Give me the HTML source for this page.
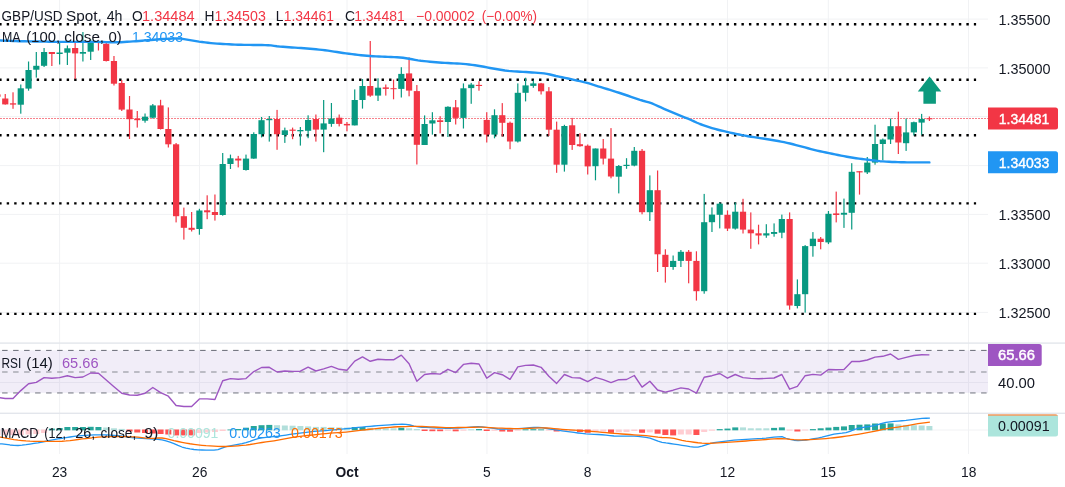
<!DOCTYPE html>
<html><head><meta charset="utf-8"><title>GBP/USD Spot 4h</title>
<style>html,body{margin:0;padding:0;background:#fff;overflow:hidden}body{width:1065px;height:487px}svg{display:block}text{font-family:"Liberation Sans",sans-serif;font-size:13.8px}</style></head><body>
<svg width="1065" height="487" viewBox="0 0 1065 487">
<rect x="0" y="0" width="1065" height="487" fill="#ffffff"/>
<defs><filter id="tb" x="-5%" y="-20%" width="110%" height="140%"><feGaussianBlur stdDeviation="0.22"/></filter></defs>
<g fill="#131722">
<g stroke="#F1F2F4" stroke-width="1" fill="none">
<line x1="59.6" y1="0" x2="59.6" y2="454"/>
<line x1="199.5" y1="0" x2="199.5" y2="454"/>
<line x1="347" y1="0" x2="347" y2="454"/>
<line x1="486.95" y1="0" x2="486.95" y2="454"/>
<line x1="587.9" y1="0" x2="587.9" y2="454"/>
<line x1="727.45" y1="0" x2="727.45" y2="454"/>
<line x1="828.3" y1="0" x2="828.3" y2="454"/>
<line x1="968.5" y1="0" x2="968.5" y2="454"/>
<line x1="0" y1="19.1" x2="988" y2="19.1"/>
<line x1="0" y1="67.9" x2="988" y2="67.9"/>
<line x1="0" y1="116.6" x2="988" y2="116.6"/>
<line x1="0" y1="165.6" x2="988" y2="165.6"/>
<line x1="0" y1="214.4" x2="988" y2="214.4"/>
<line x1="0" y1="263.2" x2="988" y2="263.2"/>
<line x1="0" y1="312.4" x2="988" y2="312.4"/>
</g>
<rect x="0" y="350.3" width="988" height="42.6" fill="#7E57C2" fill-opacity="0.11"/>
<line x1="0" y1="382.5" x2="988" y2="382.5" stroke="#E4E1EE" stroke-width="1"/>
<line x1="0" y1="430" x2="988" y2="430" stroke="#F1F2F4" stroke-width="1"/>
<g fill="none">
<line x1="2.1" y1="350.4" x2="988" y2="350.4" stroke="#676a75" stroke-width="1.0" stroke-dasharray="5.5 5.5"/>
<line x1="2.1" y1="372" x2="988" y2="372" stroke="#a9aab3" stroke-width="1.6" stroke-dasharray="5.5 5.5"/>
<line x1="2.1" y1="392.9" x2="988" y2="392.9" stroke="#a9aab3" stroke-width="1.6" stroke-dasharray="5.5 5.5"/>
</g>
<rect x="0" y="342.4" width="1065" height="1.4" fill="#E3E6EC"/>
<rect x="0" y="412.6" width="1065" height="1.4" fill="#E3E6EC"/>
<g stroke="#000" stroke-width="2.4" stroke-dasharray="2.4 5.0975" fill="none">
<line x1="-0.8" y1="24.3" x2="976.1" y2="24.3"/>
<line x1="-0.8" y1="79.7" x2="976.1" y2="79.7"/>
<line x1="-0.8" y1="135.25" x2="976.1" y2="135.25"/>
<line x1="-0.8" y1="203.4" x2="976.1" y2="203.4"/>
<line x1="-0.8" y1="313.9" x2="976.1" y2="313.9"/>
</g>
<line x1="0" y1="118.5" x2="988" y2="118.5" stroke="#F23645" stroke-width="1" stroke-opacity="0.62" stroke-dasharray="2 1"/>
<rect x="-3.12" y="94.4" width="1.2" height="2.4" fill="#F23645"/>
<rect x="-5.62" y="94.4" width="6.2" height="2.4" fill="#F23645"/>
<rect x="4.65" y="94" width="1.2" height="10.6" fill="#F23645"/>
<rect x="2.15" y="98.5" width="6.2" height="5.9" fill="#F23645"/>
<rect x="12.42" y="92.3" width="1.2" height="16.5" fill="#F23645"/>
<rect x="9.92" y="103.3" width="6.2" height="1.3" fill="#F23645"/>
<rect x="20.18" y="84.5" width="1.2" height="29.2" fill="#089981"/>
<rect x="17.68" y="88.3" width="6.2" height="16.4" fill="#089981"/>
<rect x="27.95" y="61.5" width="1.2" height="29.2" fill="#089981"/>
<rect x="25.45" y="70" width="6.2" height="18.6" fill="#089981"/>
<rect x="35.71" y="52" width="1.2" height="25.6" fill="#089981"/>
<rect x="33.21" y="65.8" width="6.2" height="3.9" fill="#089981"/>
<rect x="43.48" y="48" width="1.2" height="19" fill="#089981"/>
<rect x="40.98" y="52" width="6.2" height="13.8" fill="#089981"/>
<rect x="51.25" y="52" width="1.2" height="14" fill="#F23645"/>
<rect x="48.75" y="52" width="6.2" height="2" fill="#F23645"/>
<rect x="59.01" y="42" width="1.2" height="22.5" fill="#089981"/>
<rect x="56.51" y="52.5" width="6.2" height="1.5" fill="#089981"/>
<rect x="66.78" y="45.5" width="1.2" height="19.5" fill="#089981"/>
<rect x="64.28" y="48.3" width="6.2" height="4.4" fill="#089981"/>
<rect x="74.54" y="43" width="1.2" height="36" fill="#F23645"/>
<rect x="72.04" y="48" width="6.2" height="5.4" fill="#F23645"/>
<rect x="82.31" y="32" width="1.2" height="29.5" fill="#089981"/>
<rect x="79.81" y="52" width="6.2" height="1.7" fill="#089981"/>
<rect x="90.08" y="39.4" width="1.2" height="20.6" fill="#089981"/>
<rect x="87.58" y="42.4" width="6.2" height="9.3" fill="#089981"/>
<rect x="97.84" y="40.6" width="1.2" height="9.9" fill="#F23645"/>
<rect x="95.34" y="42" width="6.2" height="1" fill="#F23645"/>
<rect x="105.61" y="42" width="1.2" height="19.5" fill="#F23645"/>
<rect x="103.11" y="43.8" width="6.2" height="17.2" fill="#F23645"/>
<rect x="113.37" y="56" width="1.2" height="29.5" fill="#F23645"/>
<rect x="110.87" y="61" width="6.2" height="22.7" fill="#F23645"/>
<rect x="121.14" y="80" width="1.2" height="31" fill="#F23645"/>
<rect x="118.64" y="83" width="6.2" height="26.6" fill="#F23645"/>
<rect x="128.91" y="96" width="1.2" height="43" fill="#F23645"/>
<rect x="126.41" y="109.5" width="6.2" height="9.7" fill="#F23645"/>
<rect x="136.67" y="111" width="1.2" height="16.6" fill="#F23645"/>
<rect x="134.17" y="118.7" width="6.2" height="1.5" fill="#F23645"/>
<rect x="144.44" y="113.5" width="1.2" height="9.2" fill="#089981"/>
<rect x="141.94" y="116.7" width="6.2" height="4" fill="#089981"/>
<rect x="152.2" y="104" width="1.2" height="14.5" fill="#089981"/>
<rect x="149.7" y="105.4" width="6.2" height="12.3" fill="#089981"/>
<rect x="159.97" y="99.8" width="1.2" height="29.7" fill="#F23645"/>
<rect x="157.47" y="105.4" width="6.2" height="23.6" fill="#F23645"/>
<rect x="167.74" y="107.4" width="1.2" height="40.1" fill="#F23645"/>
<rect x="165.24" y="129" width="6.2" height="15.3" fill="#F23645"/>
<rect x="175.5" y="143" width="1.2" height="79.4" fill="#F23645"/>
<rect x="173" y="144.3" width="6.2" height="71.9" fill="#F23645"/>
<rect x="183.27" y="207.6" width="1.2" height="32" fill="#F23645"/>
<rect x="180.77" y="216.2" width="6.2" height="11.6" fill="#F23645"/>
<rect x="191.03" y="212" width="1.2" height="19.5" fill="#F23645"/>
<rect x="188.53" y="227.8" width="6.2" height="2" fill="#F23645"/>
<rect x="198.8" y="208.8" width="1.2" height="25.9" fill="#089981"/>
<rect x="196.3" y="210.5" width="6.2" height="18.5" fill="#089981"/>
<rect x="206.57" y="195.3" width="1.2" height="23.9" fill="#F23645"/>
<rect x="204.07" y="210.3" width="6.2" height="2" fill="#F23645"/>
<rect x="214.33" y="194.5" width="1.2" height="26.1" fill="#F23645"/>
<rect x="211.83" y="212" width="6.2" height="3" fill="#F23645"/>
<rect x="222.1" y="153" width="1.2" height="62.7" fill="#089981"/>
<rect x="219.6" y="164" width="6.2" height="51" fill="#089981"/>
<rect x="229.86" y="154.6" width="1.2" height="14.4" fill="#089981"/>
<rect x="227.36" y="158.3" width="6.2" height="5.7" fill="#089981"/>
<rect x="237.63" y="155.9" width="1.2" height="11.5" fill="#F23645"/>
<rect x="235.13" y="158.6" width="6.2" height="1.9" fill="#F23645"/>
<rect x="245.4" y="154.6" width="1.2" height="16" fill="#089981"/>
<rect x="242.9" y="158.6" width="6.2" height="11.4" fill="#089981"/>
<rect x="253.16" y="132.3" width="1.2" height="26.5" fill="#089981"/>
<rect x="250.66" y="134" width="6.2" height="24.6" fill="#089981"/>
<rect x="260.93" y="117" width="1.2" height="20.4" fill="#089981"/>
<rect x="258.43" y="120.2" width="6.2" height="14" fill="#089981"/>
<rect x="268.69" y="116" width="1.2" height="25.6" fill="#089981"/>
<rect x="266.19" y="119" width="6.2" height="1.2" fill="#089981"/>
<rect x="276.46" y="109.9" width="1.2" height="39.9" fill="#F23645"/>
<rect x="273.96" y="119" width="6.2" height="15.2" fill="#F23645"/>
<rect x="284.23" y="127.6" width="1.2" height="15.3" fill="#089981"/>
<rect x="281.73" y="130.3" width="6.2" height="4.7" fill="#089981"/>
<rect x="291.99" y="127.6" width="1.2" height="11.6" fill="#F23645"/>
<rect x="289.49" y="129.6" width="6.2" height="1.2" fill="#F23645"/>
<rect x="299.76" y="127" width="1.2" height="18.6" fill="#089981"/>
<rect x="297.26" y="130" width="6.2" height="1.3" fill="#089981"/>
<rect x="307.52" y="115.3" width="1.2" height="22.9" fill="#089981"/>
<rect x="305.02" y="120" width="6.2" height="10.8" fill="#089981"/>
<rect x="315.29" y="114.5" width="1.2" height="27.1" fill="#F23645"/>
<rect x="312.79" y="119" width="6.2" height="10.6" fill="#F23645"/>
<rect x="323.06" y="100" width="1.2" height="52.2" fill="#089981"/>
<rect x="320.56" y="123.4" width="6.2" height="6.2" fill="#089981"/>
<rect x="330.82" y="103" width="1.2" height="23.8" fill="#089981"/>
<rect x="328.32" y="118.5" width="6.2" height="5.4" fill="#089981"/>
<rect x="338.59" y="114.5" width="1.2" height="11.9" fill="#F23645"/>
<rect x="336.09" y="117.7" width="6.2" height="6.2" fill="#F23645"/>
<rect x="346.35" y="122" width="1.2" height="9.3" fill="#F23645"/>
<rect x="343.85" y="123.9" width="6.2" height="1.5" fill="#F23645"/>
<rect x="354.12" y="89.4" width="1.2" height="36" fill="#089981"/>
<rect x="351.62" y="100" width="6.2" height="25.4" fill="#089981"/>
<rect x="361.89" y="79" width="1.2" height="29.6" fill="#089981"/>
<rect x="359.39" y="86" width="6.2" height="14" fill="#089981"/>
<rect x="369.65" y="41" width="1.2" height="55.8" fill="#F23645"/>
<rect x="367.15" y="86" width="6.2" height="9.6" fill="#F23645"/>
<rect x="377.42" y="78.3" width="1.2" height="22.7" fill="#089981"/>
<rect x="374.92" y="87.7" width="6.2" height="7.9" fill="#089981"/>
<rect x="385.18" y="84.5" width="1.2" height="11.1" fill="#F23645"/>
<rect x="382.68" y="87.4" width="6.2" height="1.5" fill="#F23645"/>
<rect x="392.95" y="79.6" width="1.2" height="19.7" fill="#F23645"/>
<rect x="390.45" y="88.2" width="6.2" height="1" fill="#F23645"/>
<rect x="400.72" y="67.2" width="1.2" height="30.3" fill="#089981"/>
<rect x="398.22" y="73.9" width="6.2" height="15" fill="#089981"/>
<rect x="408.48" y="57.4" width="1.2" height="38.9" fill="#F23645"/>
<rect x="405.98" y="73.4" width="6.2" height="17.2" fill="#F23645"/>
<rect x="416.25" y="85" width="1.2" height="79.5" fill="#F23645"/>
<rect x="413.75" y="91.1" width="6.2" height="53.7" fill="#F23645"/>
<rect x="424.01" y="115.4" width="1.2" height="29.6" fill="#089981"/>
<rect x="421.51" y="124" width="6.2" height="21" fill="#089981"/>
<rect x="431.78" y="112.2" width="1.2" height="22.4" fill="#089981"/>
<rect x="429.28" y="120.3" width="6.2" height="3.2" fill="#089981"/>
<rect x="439.55" y="116.2" width="1.2" height="17.2" fill="#F23645"/>
<rect x="437.05" y="120.3" width="6.2" height="1.7" fill="#F23645"/>
<rect x="447.31" y="106.3" width="1.2" height="30.7" fill="#089981"/>
<rect x="444.81" y="106.8" width="6.2" height="15.2" fill="#089981"/>
<rect x="455.08" y="100" width="1.2" height="24.5" fill="#F23645"/>
<rect x="452.58" y="107.3" width="6.2" height="10.6" fill="#F23645"/>
<rect x="462.84" y="83.4" width="1.2" height="45.1" fill="#089981"/>
<rect x="460.34" y="88.3" width="6.2" height="29.6" fill="#089981"/>
<rect x="470.61" y="82.9" width="1.2" height="20.9" fill="#089981"/>
<rect x="468.11" y="84.6" width="6.2" height="3.5" fill="#089981"/>
<rect x="478.38" y="81.2" width="1.2" height="9.5" fill="#F23645"/>
<rect x="475.88" y="84.9" width="6.2" height="1.1" fill="#F23645"/>
<rect x="486.14" y="112.2" width="1.2" height="30.3" fill="#F23645"/>
<rect x="483.64" y="119.9" width="6.2" height="14.7" fill="#F23645"/>
<rect x="493.91" y="109.3" width="1.2" height="29" fill="#089981"/>
<rect x="491.41" y="115.2" width="6.2" height="19.4" fill="#089981"/>
<rect x="501.67" y="103.1" width="1.2" height="33.3" fill="#F23645"/>
<rect x="499.17" y="115.2" width="6.2" height="7.6" fill="#F23645"/>
<rect x="509.44" y="121.6" width="1.2" height="27.6" fill="#F23645"/>
<rect x="506.94" y="122.8" width="6.2" height="18.7" fill="#F23645"/>
<rect x="517.21" y="83.4" width="1.2" height="59.1" fill="#089981"/>
<rect x="514.71" y="92.8" width="6.2" height="48.7" fill="#089981"/>
<rect x="524.97" y="77.7" width="1.2" height="23.7" fill="#089981"/>
<rect x="522.47" y="85.4" width="6.2" height="7.4" fill="#089981"/>
<rect x="532.74" y="80.4" width="1.2" height="7.4" fill="#089981"/>
<rect x="530.24" y="83.4" width="6.2" height="2.5" fill="#089981"/>
<rect x="540.5" y="82.9" width="1.2" height="11.6" fill="#F23645"/>
<rect x="538" y="83.4" width="6.2" height="7.9" fill="#F23645"/>
<rect x="548.27" y="87.1" width="1.2" height="48.8" fill="#F23645"/>
<rect x="545.77" y="91.3" width="6.2" height="38.4" fill="#F23645"/>
<rect x="556.04" y="121.6" width="1.2" height="51.2" fill="#F23645"/>
<rect x="553.54" y="129.7" width="6.2" height="35" fill="#F23645"/>
<rect x="563.8" y="124.8" width="1.2" height="46.8" fill="#089981"/>
<rect x="561.3" y="126" width="6.2" height="38.7" fill="#089981"/>
<rect x="571.57" y="117.9" width="1.2" height="32" fill="#F23645"/>
<rect x="569.07" y="125.3" width="6.2" height="19.7" fill="#F23645"/>
<rect x="579.33" y="133.2" width="1.2" height="13.5" fill="#F23645"/>
<rect x="576.83" y="144.2" width="6.2" height="2" fill="#F23645"/>
<rect x="587.1" y="144.5" width="1.2" height="30" fill="#F23645"/>
<rect x="584.6" y="145.7" width="6.2" height="20.7" fill="#F23645"/>
<rect x="594.87" y="148.5" width="1.2" height="31.8" fill="#089981"/>
<rect x="592.37" y="148.5" width="6.2" height="17.7" fill="#089981"/>
<rect x="602.63" y="139" width="1.2" height="25.5" fill="#F23645"/>
<rect x="600.13" y="148.5" width="6.2" height="10.1" fill="#F23645"/>
<rect x="610.4" y="128.1" width="1.2" height="50.2" fill="#F23645"/>
<rect x="607.9" y="158.6" width="6.2" height="17.9" fill="#F23645"/>
<rect x="618.16" y="165" width="1.2" height="28.4" fill="#089981"/>
<rect x="615.66" y="166" width="6.2" height="10.7" fill="#089981"/>
<rect x="625.93" y="158.2" width="1.2" height="10.6" fill="#089981"/>
<rect x="623.43" y="164.8" width="6.2" height="1.2" fill="#089981"/>
<rect x="633.7" y="147" width="1.2" height="19.3" fill="#089981"/>
<rect x="631.2" y="150.8" width="6.2" height="14.8" fill="#089981"/>
<rect x="641.46" y="149" width="1.2" height="65.3" fill="#F23645"/>
<rect x="638.96" y="150.8" width="6.2" height="61.4" fill="#F23645"/>
<rect x="649.23" y="175.4" width="1.2" height="45.6" fill="#089981"/>
<rect x="646.73" y="190.2" width="6.2" height="22" fill="#089981"/>
<rect x="656.99" y="170.5" width="1.2" height="101.5" fill="#F23645"/>
<rect x="654.49" y="190.2" width="6.2" height="64.1" fill="#F23645"/>
<rect x="664.76" y="249.3" width="1.2" height="33.3" fill="#F23645"/>
<rect x="662.26" y="254.8" width="6.2" height="12.2" fill="#F23645"/>
<rect x="672.53" y="255.5" width="1.2" height="14.3" fill="#089981"/>
<rect x="670.03" y="260.9" width="6.2" height="6.1" fill="#089981"/>
<rect x="680.29" y="250" width="1.2" height="17" fill="#089981"/>
<rect x="677.79" y="251.8" width="6.2" height="9.1" fill="#089981"/>
<rect x="688.06" y="250" width="1.2" height="33.3" fill="#F23645"/>
<rect x="685.56" y="251.8" width="6.2" height="9.1" fill="#F23645"/>
<rect x="695.82" y="251.3" width="1.2" height="49.3" fill="#F23645"/>
<rect x="693.32" y="260.9" width="6.2" height="30.3" fill="#F23645"/>
<rect x="703.59" y="193.9" width="1.2" height="99.8" fill="#089981"/>
<rect x="701.09" y="222.2" width="6.2" height="69" fill="#089981"/>
<rect x="711.36" y="207.4" width="1.2" height="24.6" fill="#089981"/>
<rect x="708.86" y="214.6" width="6.2" height="7.6" fill="#089981"/>
<rect x="719.12" y="202.5" width="1.2" height="25.9" fill="#089981"/>
<rect x="716.62" y="203.7" width="6.2" height="11.1" fill="#089981"/>
<rect x="726.89" y="210.4" width="1.2" height="20.6" fill="#F23645"/>
<rect x="724.39" y="214.8" width="6.2" height="13.8" fill="#F23645"/>
<rect x="734.65" y="202.5" width="1.2" height="27.1" fill="#089981"/>
<rect x="732.15" y="211.7" width="6.2" height="16.9" fill="#089981"/>
<rect x="742.42" y="198.8" width="1.2" height="34.7" fill="#F23645"/>
<rect x="739.92" y="211.7" width="6.2" height="17.9" fill="#F23645"/>
<rect x="750.19" y="212.4" width="1.2" height="36.4" fill="#F23645"/>
<rect x="747.69" y="229.6" width="6.2" height="3.7" fill="#F23645"/>
<rect x="757.95" y="224.7" width="1.2" height="19.7" fill="#F23645"/>
<rect x="755.45" y="233.3" width="6.2" height="2.2" fill="#F23645"/>
<rect x="765.72" y="224.2" width="1.2" height="13.6" fill="#089981"/>
<rect x="763.22" y="233.3" width="6.2" height="2.2" fill="#089981"/>
<rect x="773.48" y="223.4" width="1.2" height="13.3" fill="#089981"/>
<rect x="770.98" y="232" width="6.2" height="1.9" fill="#089981"/>
<rect x="781.25" y="214.6" width="1.2" height="23.6" fill="#089981"/>
<rect x="778.75" y="219" width="6.2" height="13.7" fill="#089981"/>
<rect x="789.02" y="212.4" width="1.2" height="97.3" fill="#F23645"/>
<rect x="786.52" y="219" width="6.2" height="86.5" fill="#F23645"/>
<rect x="796.78" y="279.4" width="1.2" height="29" fill="#089981"/>
<rect x="794.28" y="294.2" width="6.2" height="11.8" fill="#089981"/>
<rect x="804.55" y="245.1" width="1.2" height="67.5" fill="#089981"/>
<rect x="802.05" y="246.1" width="6.2" height="48.1" fill="#089981"/>
<rect x="812.31" y="232.1" width="1.2" height="24.6" fill="#089981"/>
<rect x="809.81" y="238.7" width="6.2" height="7.4" fill="#089981"/>
<rect x="820.08" y="237" width="1.2" height="12.3" fill="#F23645"/>
<rect x="817.58" y="238.7" width="6.2" height="3.3" fill="#F23645"/>
<rect x="827.85" y="211" width="1.2" height="33.1" fill="#089981"/>
<rect x="825.35" y="213.8" width="6.2" height="28.6" fill="#089981"/>
<rect x="835.61" y="191.6" width="1.2" height="30.8" fill="#F23645"/>
<rect x="833.11" y="213.4" width="6.2" height="1.6" fill="#F23645"/>
<rect x="843.38" y="198.6" width="1.2" height="29.3" fill="#089981"/>
<rect x="840.88" y="212.8" width="6.2" height="1.9" fill="#089981"/>
<rect x="851.14" y="163.2" width="1.2" height="66.3" fill="#089981"/>
<rect x="848.64" y="171.8" width="6.2" height="41" fill="#089981"/>
<rect x="858.91" y="171.2" width="1.2" height="23.4" fill="#F23645"/>
<rect x="856.41" y="171.2" width="6.2" height="1.2" fill="#F23645"/>
<rect x="866.68" y="157" width="1.2" height="17" fill="#089981"/>
<rect x="864.18" y="162.6" width="6.2" height="9.8" fill="#089981"/>
<rect x="874.44" y="124.7" width="1.2" height="40" fill="#089981"/>
<rect x="871.94" y="144" width="6.2" height="18.6" fill="#089981"/>
<rect x="882.21" y="138.5" width="1.2" height="21.6" fill="#089981"/>
<rect x="879.71" y="139.5" width="6.2" height="4.5" fill="#089981"/>
<rect x="889.97" y="118.5" width="1.2" height="25.5" fill="#089981"/>
<rect x="887.47" y="126.2" width="6.2" height="13.3" fill="#089981"/>
<rect x="897.74" y="111.7" width="1.2" height="42.3" fill="#F23645"/>
<rect x="895.24" y="126.2" width="6.2" height="16.3" fill="#F23645"/>
<rect x="905.51" y="118.5" width="1.2" height="32.4" fill="#089981"/>
<rect x="903.01" y="132.4" width="6.2" height="10.8" fill="#089981"/>
<rect x="913.27" y="121.6" width="1.2" height="13.9" fill="#089981"/>
<rect x="910.77" y="122.2" width="6.2" height="10.2" fill="#089981"/>
<rect x="921.04" y="113.9" width="1.2" height="20.9" fill="#089981"/>
<rect x="918.54" y="118.9" width="6.2" height="3.7" fill="#089981"/>
<rect x="928.8" y="116.5" width="1.2" height="4.5" fill="#F23645"/>
<rect x="926.3" y="118.3" width="6.2" height="1" fill="#F23645"/>
<path d="M-2 40.3 L1 40.45 L4 40.59 L7 40.74 L10 40.88 L13 41.01 L16 41.12 L19 41.2 L22 41.27 L25 41.32 L28 41.36 L31 41.41 L34 41.45 L37 41.49 L40 41.54 L43 41.6 L46 41.67 L49 41.73 L52 41.79 L55 41.84 L58 41.88 L61 41.9 L64 41.9 L67 41.9 L70 41.9 L73 41.9 L76 41.9 L79 41.9 L82 41.9 L85 41.9 L88 41.9 L91 41.9 L94 41.9 L97 41.92 L100 41.97 L103 42.04 L106 42.12 L109 42.2 L112 42.26 L115 42.3 L118 42.28 L121 42.18 L124 42.02 L127 41.81 L130 41.6 L133 41.4 L136 41.18 L139 40.93 L142 40.68 L145 40.42 L148 40.17 L151 39.94 L154 39.71 L157 39.47 L160 39.23 L163 39.02 L166 38.84 L169 38.7 L172 38.58 L175 38.49 L178 38.45 L181 38.66 L184 39.14 L187 39.67 L190 40.15 L193 40.66 L196 41.19 L199 41.67 L202 42.06 L205 42.43 L208 42.77 L211 43.08 L214 43.36 L217 43.59 L220 43.78 L223 43.97 L226 44.15 L229 44.31 L232 44.45 L235 44.58 L238 44.69 L241 44.78 L244 44.84 L247 44.89 L250 44.92 L253 44.95 L256 44.98 L259 45.01 L262 45.05 L265 45.1 L268 45.18 L271 45.39 L274 45.85 L277 46.29 L280 46.57 L283 46.82 L286 47.05 L289 47.26 L292 47.45 L295 47.65 L298 47.85 L301 48.06 L304 48.3 L307 48.55 L310 48.8 L313 49.05 L316 49.32 L319 49.61 L322 49.91 L325 50.25 L328 50.64 L331 51.08 L334 51.56 L337 52.05 L340 52.54 L343 52.99 L346 53.39 L349 53.77 L352 54.15 L355 54.51 L358 54.86 L361 55.19 L364 55.49 L367 55.76 L370 55.99 L373 56.18 L376 56.34 L379 56.48 L382 56.6 L385 56.72 L388 56.83 L391 56.96 L394 57.11 L397 57.29 L400 57.5 L403 57.81 L406 58.24 L409 58.75 L412 59.3 L415 59.84 L418 60.33 L421 60.74 L424 61.08 L427 61.42 L430 61.73 L433 62.02 L436 62.29 L439 62.53 L442 62.75 L445 62.92 L448 63.07 L451 63.21 L454 63.34 L457 63.49 L460 63.66 L463 63.88 L466 64.16 L469 64.5 L472 64.88 L475 65.29 L478 65.73 L481 66.21 L484 66.77 L487 67.37 L490 67.96 L493 68.5 L496 69.01 L499 69.53 L502 70.03 L505 70.48 L508 70.85 L511 71.13 L514 71.35 L517 71.54 L520 71.71 L523 71.88 L526 72.06 L529 72.26 L532 72.46 L535 72.66 L538 72.87 L541 73.12 L544 73.43 L547 73.87 L550 74.51 L553 75.25 L556 75.98 L559 76.63 L562 77.27 L565 77.9 L568 78.54 L571 79.19 L574 79.84 L577 80.49 L580 81.15 L583 81.85 L586 82.6 L589 83.44 L592 84.36 L595 85.32 L598 86.28 L601 87.2 L604 88.11 L607 89.01 L610 89.91 L613 90.84 L616 91.78 L619 92.76 L622 93.75 L625 94.75 L628 95.76 L631 96.77 L634 97.82 L637 98.86 L640 99.86 L643 100.77 L646 101.57 L649 102.41 L652 103.47 L655 104.75 L658 106.11 L661 107.45 L664 108.81 L667 110.16 L670 111.46 L673 112.73 L676 113.97 L679 115.18 L682 116.35 L685 117.51 L688 118.71 L691 120 L694 121.39 L697 122.76 L700 124 L703 125.11 L706 126.16 L709 127.14 L712 128.06 L715 128.92 L718 129.73 L721 130.48 L724 131.2 L727 131.9 L730 132.58 L733 133.25 L736 133.9 L739 134.52 L742 135.12 L745 135.68 L748 136.21 L751 136.71 L754 137.18 L757 137.64 L760 138.09 L763 138.56 L766 139.03 L769 139.53 L772 140.03 L775 140.54 L778 141.05 L781 141.59 L784 142.17 L787 142.8 L790 143.51 L793 144.28 L796 145.07 L799 145.87 L802 146.65 L805 147.44 L808 148.25 L811 149.05 L814 149.82 L817 150.55 L820 151.24 L823 151.9 L826 152.53 L829 153.15 L832 153.76 L835 154.36 L838 154.96 L841 155.57 L844 156.16 L847 156.74 L850 157.28 L853 157.77 L856 158.21 L859 158.62 L862 159 L865 159.38 L868 159.75 L871 160.15 L874 160.54 L877 160.89 L880 161.18 L883 161.4 L886 161.62 L889 161.8 L892 161.96 L895 162.07 L898 162.15 L901 162.22 L904 162.29 L907 162.34 L910 162.38 L913 162.4 L916 162.4 L919 162.4 L922 162.4 L925 162.4 L928 162.4 L929.4 162.4" fill="none" stroke="#2196F3" stroke-width="2.4" stroke-linejoin="round" stroke-linecap="round"/>
<path d="M929.55 76.4 L941.3 91.6 L935.9 91.6 L935.9 103.75 L923.4 103.75 L923.4 91.6 L917.8 91.6 Z" fill="#0C9A7D"/>
<path d="M-2.52 397.4 L5.25 398.5 L13.02 398.5 L20.78 390.6 L28.55 383.8 L36.31 382.4 L44.08 377.6 L51.85 378.2 L59.61 377.6 L67.38 375.7 L75.14 377.6 L82.91 377 L90.68 373 L98.44 373.3 L106.21 380 L113.97 386.7 L121.74 393.3 L129.51 395 L137.27 395.2 L145.04 393.3 L152.8 387.5 L160.57 392.7 L168.34 396.2 L176.1 405.5 L183.87 406.5 L191.63 406.5 L199.4 398.9 L207.17 398.9 L214.93 399.5 L222.7 380.7 L230.46 378.6 L238.23 379.3 L246 378.6 L253.76 371.6 L261.53 367.5 L269.29 367.3 L277.06 372 L284.83 371 L292.59 371.4 L300.36 371.2 L308.12 367.1 L315.89 371 L323.66 368.9 L331.42 366.4 L339.19 369.3 L346.95 370.2 L354.72 361.1 L362.49 356.9 L370.25 361.3 L378.02 359.2 L385.78 359.8 L393.55 359.8 L401.32 355.1 L409.08 363.8 L416.85 381.3 L424.61 374.5 L432.38 373.5 L440.15 374.1 L447.91 369.3 L455.68 372.6 L463.44 364.4 L471.21 363.3 L478.98 364 L486.74 378.2 L494.51 372.6 L502.27 374.7 L510.04 379.3 L517.81 366.9 L525.57 365.4 L533.34 365 L541.1 367.3 L548.87 376.2 L556.64 383.4 L564.4 374.5 L572.17 377.6 L579.93 378 L587.7 381.7 L595.47 377.4 L603.23 379.7 L611 382.6 L618.76 379.7 L626.53 379.5 L634.3 375.5 L642.06 387.1 L649.83 381.3 L657.59 390 L665.36 392.1 L673.13 390.2 L680.89 387.9 L688.66 389 L696.42 393.1 L704.19 377.2 L711.96 375.7 L719.72 373.5 L727.49 378.2 L735.25 374.5 L743.02 377.6 L750.79 378.4 L758.55 378.8 L766.32 378.4 L774.08 378 L781.85 374.5 L789.62 389.2 L797.38 386.3 L805.15 375.7 L812.91 374.4 L820.68 375.1 L828.45 369.5 L836.21 369.8 L843.98 369.5 L851.74 361.5 L859.51 361.5 L867.28 360 L875.04 357.1 L882.81 356.3 L890.57 354 L898.34 359.4 L906.11 357.4 L913.87 355.5 L921.64 354.7 L929.4 354.9" fill="none" stroke="#9E56C2" stroke-width="1.4" stroke-linejoin="round"/>
<rect x="-5.52" y="429.5" width="6" height="5.5" fill="#FFCDD2"/>
<rect x="2.25" y="429.5" width="6" height="5.5" fill="#FFCDD2"/>
<rect x="10.02" y="429.5" width="6" height="5.5" fill="#FFCDD2"/>
<rect x="17.78" y="429.5" width="6" height="5.5" fill="#FFCDD2"/>
<rect x="25.55" y="429.5" width="6" height="5" fill="#FFCDD2"/>
<rect x="33.31" y="429.5" width="6" height="4.5" fill="#FFCDD2"/>
<rect x="41.08" y="429.5" width="6" height="3.5" fill="#FFCDD2"/>
<rect x="48.85" y="428.6" width="6" height="1.7" fill="#26A69A"/>
<rect x="56.61" y="428" width="6" height="2.3" fill="#26A69A"/>
<rect x="64.38" y="427" width="6" height="3.3" fill="#26A69A"/>
<rect x="72.14" y="427" width="6" height="3.3" fill="#26A69A"/>
<rect x="79.91" y="427" width="6" height="3.3" fill="#26A69A"/>
<rect x="87.68" y="426.8" width="6" height="3.5" fill="#26A69A"/>
<rect x="95.44" y="427" width="6" height="3.3" fill="#26A69A"/>
<rect x="103.21" y="427.5" width="6" height="2.8" fill="#B2DFDB"/>
<rect x="110.97" y="428.3" width="6" height="2" fill="#B2DFDB"/>
<rect x="118.74" y="428.9" width="6" height="1.4" fill="#B2DFDB"/>
<rect x="126.51" y="429.5" width="6" height="2" fill="#FF5252"/>
<rect x="134.27" y="429.5" width="6" height="3" fill="#FF5252"/>
<rect x="142.04" y="429.5" width="6" height="3.5" fill="#FF5252"/>
<rect x="149.8" y="429.5" width="6" height="4" fill="#FF5252"/>
<rect x="157.57" y="429.5" width="6" height="4.5" fill="#FF5252"/>
<rect x="165.34" y="429.5" width="6" height="5" fill="#FF5252"/>
<rect x="173.1" y="429.5" width="6" height="5.9" fill="#FF5252"/>
<rect x="180.87" y="429.5" width="6" height="5.9" fill="#FF5252"/>
<rect x="188.63" y="429.5" width="6" height="5.9" fill="#FF5252"/>
<rect x="196.4" y="429.5" width="6" height="3.5" fill="#FFCDD2"/>
<rect x="204.17" y="429.5" width="6" height="3" fill="#FFCDD2"/>
<rect x="211.93" y="429.5" width="6" height="2.5" fill="#FFCDD2"/>
<rect x="219.7" y="429.5" width="6" height="1.5" fill="#FFCDD2"/>
<rect x="227.46" y="429.5" width="6" height="0.8" fill="#26A69A"/>
<rect x="235.23" y="429" width="6" height="1.3" fill="#26A69A"/>
<rect x="243" y="427.7" width="6" height="2.6" fill="#26A69A"/>
<rect x="250.76" y="426" width="6" height="4.3" fill="#26A69A"/>
<rect x="258.53" y="425.2" width="6" height="5.1" fill="#26A69A"/>
<rect x="266.29" y="424.9" width="6" height="5.4" fill="#26A69A"/>
<rect x="274.06" y="425.2" width="6" height="5.1" fill="#B2DFDB"/>
<rect x="281.83" y="425.5" width="6" height="4.8" fill="#B2DFDB"/>
<rect x="289.59" y="425.7" width="6" height="4.6" fill="#B2DFDB"/>
<rect x="297.36" y="426" width="6" height="4.3" fill="#B2DFDB"/>
<rect x="305.12" y="426.4" width="6" height="3.9" fill="#B2DFDB"/>
<rect x="312.89" y="426.9" width="6" height="3.4" fill="#B2DFDB"/>
<rect x="320.66" y="426.9" width="6" height="3.4" fill="#B2DFDB"/>
<rect x="328.42" y="427.2" width="6" height="3.1" fill="#B2DFDB"/>
<rect x="336.19" y="427.4" width="6" height="2.9" fill="#B2DFDB"/>
<rect x="343.95" y="427.6" width="6" height="2.7" fill="#B2DFDB"/>
<rect x="351.72" y="427" width="6" height="3.3" fill="#26A69A"/>
<rect x="359.49" y="427" width="6" height="3.3" fill="#26A69A"/>
<rect x="367.25" y="427.8" width="6" height="2.5" fill="#B2DFDB"/>
<rect x="375.02" y="428" width="6" height="2.3" fill="#B2DFDB"/>
<rect x="382.78" y="428.2" width="6" height="2.1" fill="#B2DFDB"/>
<rect x="390.55" y="428.3" width="6" height="2" fill="#B2DFDB"/>
<rect x="398.32" y="427.7" width="6" height="2.6" fill="#26A69A"/>
<rect x="406.08" y="428.3" width="6" height="2" fill="#B2DFDB"/>
<rect x="413.85" y="429" width="6" height="1.3" fill="#B2DFDB"/>
<rect x="421.61" y="429.5" width="6" height="1.5" fill="#FF5252"/>
<rect x="429.38" y="429.5" width="6" height="1.7" fill="#FF5252"/>
<rect x="437.15" y="429.5" width="6" height="1.7" fill="#FF5252"/>
<rect x="444.91" y="429.5" width="6" height="1.3" fill="#FFCDD2"/>
<rect x="452.68" y="429.5" width="6" height="1.8" fill="#FF5252"/>
<rect x="460.44" y="429.5" width="6" height="1.2" fill="#FFCDD2"/>
<rect x="468.21" y="429.3" width="6" height="1" fill="#B2DFDB"/>
<rect x="475.98" y="429" width="6" height="1.3" fill="#26A69A"/>
<rect x="483.74" y="429.5" width="6" height="1.5" fill="#FF5252"/>
<rect x="491.51" y="429.5" width="6" height="1.3" fill="#FFCDD2"/>
<rect x="499.27" y="429.5" width="6" height="2" fill="#FF5252"/>
<rect x="507.04" y="429.5" width="6" height="2.2" fill="#FF5252"/>
<rect x="514.81" y="429.5" width="6" height="1.2" fill="#FFCDD2"/>
<rect x="522.57" y="429.3" width="6" height="1" fill="#26A69A"/>
<rect x="530.34" y="429.2" width="6" height="1.1" fill="#26A69A"/>
<rect x="538.1" y="429.4" width="6" height="0.9" fill="#26A69A"/>
<rect x="545.87" y="429.5" width="6" height="1.1" fill="#FFCDD2"/>
<rect x="553.64" y="429.5" width="6" height="2" fill="#FF5252"/>
<rect x="561.4" y="429.5" width="6" height="1.7" fill="#FFCDD2"/>
<rect x="569.17" y="429.5" width="6" height="1.7" fill="#FFCDD2"/>
<rect x="576.93" y="429.5" width="6" height="2.5" fill="#FF5252"/>
<rect x="584.7" y="429.5" width="6" height="3.3" fill="#FF5252"/>
<rect x="592.47" y="429.5" width="6" height="2.5" fill="#FFCDD2"/>
<rect x="600.23" y="429.5" width="6" height="2.2" fill="#FFCDD2"/>
<rect x="608" y="429.5" width="6" height="3.3" fill="#FF5252"/>
<rect x="615.76" y="429.5" width="6" height="2.8" fill="#FFCDD2"/>
<rect x="623.53" y="429.5" width="6" height="2.5" fill="#FFCDD2"/>
<rect x="631.3" y="429.5" width="6" height="1.5" fill="#FFCDD2"/>
<rect x="639.06" y="429.5" width="6" height="3.3" fill="#FF5252"/>
<rect x="646.83" y="429.5" width="6" height="2.8" fill="#FFCDD2"/>
<rect x="654.59" y="429.5" width="6" height="4.2" fill="#FF5252"/>
<rect x="662.36" y="429.5" width="6" height="5.5" fill="#FF5252"/>
<rect x="670.13" y="429.5" width="6" height="5.9" fill="#FF5252"/>
<rect x="677.89" y="429.5" width="6" height="5" fill="#FFCDD2"/>
<rect x="685.66" y="429.5" width="6" height="5" fill="#FFCDD2"/>
<rect x="693.42" y="429.5" width="6" height="5.5" fill="#FF5252"/>
<rect x="701.19" y="429.5" width="6" height="2.5" fill="#FFCDD2"/>
<rect x="708.96" y="429.5" width="6" height="1.2" fill="#FFCDD2"/>
<rect x="716.72" y="429.1" width="6" height="1.2" fill="#26A69A"/>
<rect x="724.49" y="428.6" width="6" height="1.7" fill="#26A69A"/>
<rect x="732.25" y="427.4" width="6" height="2.9" fill="#26A69A"/>
<rect x="740.02" y="427.4" width="6" height="2.9" fill="#B2DFDB"/>
<rect x="747.79" y="428.3" width="6" height="2" fill="#B2DFDB"/>
<rect x="755.55" y="428.3" width="6" height="2" fill="#B2DFDB"/>
<rect x="763.32" y="428.3" width="6" height="2" fill="#B2DFDB"/>
<rect x="771.08" y="427.9" width="6" height="2.4" fill="#26A69A"/>
<rect x="778.85" y="427.4" width="6" height="2.9" fill="#26A69A"/>
<rect x="786.62" y="429.5" width="6" height="1.2" fill="#FFCDD2"/>
<rect x="794.38" y="429.5" width="6" height="2" fill="#FF5252"/>
<rect x="802.15" y="429.5" width="6" height="1" fill="#FFCDD2"/>
<rect x="809.91" y="429.1" width="6" height="1.2" fill="#26A69A"/>
<rect x="817.68" y="428.3" width="6" height="2" fill="#26A69A"/>
<rect x="825.45" y="427.6" width="6" height="2.7" fill="#26A69A"/>
<rect x="833.21" y="426.9" width="6" height="3.4" fill="#26A69A"/>
<rect x="840.98" y="426.4" width="6" height="3.9" fill="#26A69A"/>
<rect x="848.74" y="425" width="6" height="5.3" fill="#26A69A"/>
<rect x="856.51" y="424.7" width="6" height="5.6" fill="#26A69A"/>
<rect x="864.28" y="424.4" width="6" height="5.9" fill="#26A69A"/>
<rect x="872.04" y="423.5" width="6" height="6.8" fill="#26A69A"/>
<rect x="879.81" y="423.5" width="6" height="6.8" fill="#26A69A"/>
<rect x="887.57" y="423.4" width="6" height="6.9" fill="#26A69A"/>
<rect x="895.34" y="424.4" width="6" height="5.9" fill="#B2DFDB"/>
<rect x="903.11" y="424.9" width="6" height="5.4" fill="#B2DFDB"/>
<rect x="910.87" y="425.2" width="6" height="5.1" fill="#B2DFDB"/>
<rect x="918.64" y="425.5" width="6" height="4.8" fill="#B2DFDB"/>
<rect x="926.4" y="426" width="6" height="4.3" fill="#B2DFDB"/>
<path d="M-2 443.7 L2 443.96 L6 444.44 L10 444.98 L14 445.39 L18 445.49 L22 445.22 L26 444.71 L30 444.09 L34 443.47 L38 442.82 L42 442.06 L46 441.24 L50 440.41 L54 439.61 L58 438.89 L62 438.26 L66 437.62 L70 437 L74 436.43 L78 435.94 L82 435.57 L86 435.32 L90 435.12 L94 434.95 L98 434.83 L102 434.8 L106 434.89 L110 435.1 L114 435.37 L118 435.68 L122 436.08 L126 436.65 L130 437.26 L134 437.78 L138 438.14 L142 438.44 L146 438.71 L150 438.96 L154 439.21 L158 439.44 L162 439.89 L166 440.87 L170 442.07 L174 443.55 L178 445.34 L182 447.01 L186 448.12 L190 448.88 L194 449.49 L198 449.86 L202 450 L206 450.11 L210 450.17 L214 450.2 L218 449.6 L222 448.21 L226 446.74 L230 445.77 L234 445.02 L238 444.31 L242 443.55 L246 442.61 L250 441.32 L254 439.9 L258 438.63 L262 437.81 L266 437.33 L270 436.97 L274 436.64 L278 436.24 L282 435.71 L286 435.1 L290 434.47 L294 433.87 L298 433.32 L302 432.78 L306 432.27 L310 431.81 L314 431.43 L318 431.11 L322 430.83 L326 430.54 L330 430.21 L334 429.85 L338 429.47 L342 429.08 L346 428.69 L350 428.29 L354 427.88 L358 427.46 L362 427.07 L366 426.7 L370 426.35 L374 426.01 L378 425.7 L382 425.41 L386 425.1 L390 424.78 L394 424.5 L398 424.3 L402 424.2 L406 424.42 L410 425 L414 426.05 L418 426.91 L422 427.23 L426 427.46 L430 427.64 L434 427.82 L438 428.01 L442 428.18 L446 428.28 L450 428.29 L454 428.18 L458 428 L462 427.77 L466 427.55 L470 427.24 L474 426.9 L478 426.71 L482 426.85 L486 427.31 L490 427.84 L494 428.43 L498 429 L502 429.09 L506 429.01 L510 428.87 L514 428.71 L518 428.55 L522 428.32 L526 428.04 L530 427.75 L534 427.52 L538 427.4 L542 427.6 L546 428.26 L550 428.99 L554 429.59 L558 430.2 L562 430.81 L566 431.38 L570 431.92 L574 432.46 L578 432.99 L582 433.46 L586 433.85 L590 434.13 L594 434.33 L598 434.51 L602 434.74 L606 435.13 L610 435.6 L614 436.01 L618 436.2 L622 436.2 L626 436.2 L630 436.2 L634 436.2 L638 436.4 L642 436.85 L646 437.45 L650 438.18 L654 439.53 L658 441.14 L662 442.36 L666 442.98 L670 443.5 L674 444.09 L678 444.69 L682 445.29 L686 445.9 L690 446.6 L694 447.11 L698 447.08 L702 446.19 L706 444.83 L710 443.52 L714 442.71 L718 442.09 L722 441.53 L726 441.04 L730 440.59 L734 440.21 L738 439.87 L742 439.59 L746 439.35 L750 439.14 L754 438.94 L758 438.72 L762 438.47 L766 438.13 L770 437.66 L774 437.18 L778 436.82 L782 436.73 L786 438.25 L790 439.47 L794 440.23 L798 440.6 L802 440.46 L806 440.05 L810 439.44 L814 438.74 L818 438.02 L822 437.23 L826 436.21 L830 435.15 L834 434.2 L838 433.56 L842 433.2 L846 432.69 L850 431.38 L854 429.68 L858 428.41 L862 427.59 L866 426.92 L870 426.27 L874 425.52 L878 424.53 L882 423.42 L886 422.47 L890 421.88 L894 421.46 L898 421.11 L902 420.75 L906 420.33 L910 419.81 L914 419.27 L918 418.79 L922 418.46 L926 418.24 L929.9 418.1" fill="none" stroke="#2196F3" stroke-width="1.3" stroke-linejoin="round"/>
<path d="M-2 436.8 L2 437.29 L6 438.05 L10 438.92 L14 439.7 L18 440.21 L22 440.62 L26 440.97 L30 441.21 L34 441.3 L38 441.3 L42 441.3 L46 441.3 L50 441.3 L54 441.3 L58 441.3 L62 441.24 L66 440.97 L70 440.55 L74 440.04 L78 439.49 L82 438.98 L86 438.54 L90 438.08 L94 437.61 L98 437.22 L102 436.97 L106 436.8 L110 436.65 L114 436.54 L118 436.5 L122 436.53 L126 436.63 L130 436.78 L134 436.95 L138 437.19 L142 437.6 L146 438.05 L150 438.35 L154 438.33 L158 437.98 L162 437.99 L166 438.62 L170 439.61 L174 440.66 L178 441.51 L182 442.29 L186 443.05 L190 443.74 L194 444.33 L198 444.83 L202 445.28 L206 445.67 L210 445.96 L214 446.18 L218 446.36 L222 446.48 L226 446.48 L230 446.35 L234 446.11 L238 445.79 L242 445.43 L246 445.05 L250 444.51 L254 443.84 L258 443.15 L262 442.51 L266 441.93 L270 441.36 L274 440.77 L278 440.15 L282 439.44 L286 438.66 L290 437.88 L294 437.18 L298 436.62 L302 436.12 L306 435.66 L310 435.23 L314 434.79 L318 434.36 L322 433.95 L326 433.57 L330 433.22 L334 432.92 L338 432.66 L342 432.39 L346 432.08 L350 431.69 L354 431.22 L358 430.72 L362 430.21 L366 429.74 L370 429.26 L374 428.78 L378 428.35 L382 427.99 L386 427.64 L390 427.3 L394 427.01 L398 426.77 L402 426.62 L406 426.53 L410 426.46 L414 426.42 L418 426.4 L422 426.48 L426 426.65 L430 426.84 L434 427.02 L438 427.23 L442 427.44 L446 427.58 L450 427.6 L454 427.56 L458 427.51 L462 427.44 L466 427.39 L470 427.33 L474 427.27 L478 427.22 L482 427.2 L486 427.3 L490 427.53 L494 427.82 L498 428.06 L502 428.21 L506 428.36 L510 428.49 L514 428.58 L518 428.6 L522 428.53 L526 428.39 L530 428.23 L534 428.08 L538 427.95 L542 427.9 L546 427.98 L550 428.21 L554 428.54 L558 428.93 L562 429.33 L566 429.68 L570 429.96 L574 430.21 L578 430.46 L582 430.7 L586 430.97 L590 431.26 L594 431.58 L598 431.92 L602 432.28 L606 432.64 L610 433 L614 433.35 L618 433.68 L622 433.98 L626 434.25 L630 434.52 L634 434.78 L638 435.05 L642 435.34 L646 435.66 L650 436.03 L654 436.54 L658 437.08 L662 437.49 L666 437.69 L670 437.9 L674 438.46 L678 439.37 L682 440.35 L686 441.17 L690 441.72 L694 442.26 L698 442.74 L702 443.11 L706 443.29 L710 443.27 L714 443.11 L718 442.88 L722 442.6 L726 442.31 L730 442.05 L734 441.8 L738 441.53 L742 441.26 L746 440.98 L750 440.7 L754 440.43 L758 440.15 L762 439.82 L766 439.49 L770 439.18 L774 438.92 L778 438.75 L782 438.7 L786 438.91 L790 439.31 L794 439.7 L798 439.9 L802 439.86 L806 439.75 L810 439.57 L814 439.36 L818 439.14 L822 438.88 L826 438.55 L830 438.16 L834 437.73 L838 437.27 L842 436.76 L846 436.2 L850 435.59 L854 434.97 L858 434.31 L862 433.61 L866 432.88 L870 432.13 L874 431.35 L878 430.51 L882 429.67 L886 428.88 L890 428.21 L894 427.61 L898 427.05 L902 426.48 L906 425.85 L910 425.15 L914 424.41 L918 423.71 L922 423.12 L926 422.62 L929.9 422.2" fill="none" stroke="#FF6D00" stroke-width="1.3" stroke-linejoin="round"/>
<text filter="url(#tb)" x="1.62" y="21.2" textLength="60.85" lengthAdjust="spacingAndGlyphs">GBP/USD</text>
<text filter="url(#tb)" x="66.14" y="21.2" textLength="35.67" lengthAdjust="spacingAndGlyphs">Spot,</text>
<text filter="url(#tb)" x="106.71" y="21.2" textLength="15.79" lengthAdjust="spacingAndGlyphs">4h</text>
<text filter="url(#tb)" x="132" y="21.2">O</text>
<text filter="url(#tb)" x="142" y="21.2" fill="#F23645" textLength="52.7" lengthAdjust="spacingAndGlyphs">1.34484</text>
<text filter="url(#tb)" x="204.5" y="21.2">H</text>
<text filter="url(#tb)" x="214.5" y="21.2" fill="#F23645" textLength="51.3" lengthAdjust="spacingAndGlyphs">1.34503</text>
<text filter="url(#tb)" x="275.8" y="21.2">L</text>
<text filter="url(#tb)" x="283.7" y="21.2" fill="#F23645" textLength="50.3" lengthAdjust="spacingAndGlyphs">1.34461</text>
<text filter="url(#tb)" x="345" y="21.2">C</text>
<text filter="url(#tb)" x="354.2" y="21.2" fill="#F23645" textLength="50.5" lengthAdjust="spacingAndGlyphs">1.34481</text>
<text filter="url(#tb)" x="416" y="21.2" fill="#F23645" textLength="58.7" lengthAdjust="spacingAndGlyphs">−0.00002</text>
<text filter="url(#tb)" x="481.8" y="21.2" fill="#F23645" textLength="55.3" lengthAdjust="spacingAndGlyphs">(−0.00%)</text>
<text filter="url(#tb)" x="1.98" y="42" textLength="18.6" lengthAdjust="spacingAndGlyphs">MA</text>
<text filter="url(#tb)" x="26.18" y="42" textLength="33.88" lengthAdjust="spacingAndGlyphs">(100,</text>
<text filter="url(#tb)" x="64.34" y="42" textLength="39.75" lengthAdjust="spacingAndGlyphs">close,</text>
<text filter="url(#tb)" x="108.47" y="42" textLength="13.32" lengthAdjust="spacingAndGlyphs">0)</text>
<text filter="url(#tb)" x="132" y="42" fill="#2196F3" textLength="51" lengthAdjust="spacingAndGlyphs">1.34033</text>
<text filter="url(#tb)" x="1.57" y="367.5" textLength="19.75" lengthAdjust="spacingAndGlyphs">RSI</text>
<text filter="url(#tb)" x="26.2" y="367.5" textLength="26.59" lengthAdjust="spacingAndGlyphs">(14)</text>
<text filter="url(#tb)" x="62" y="367.5" fill="#9E56C2" textLength="36.5" lengthAdjust="spacingAndGlyphs">65.66</text>
<text filter="url(#tb)" x="0.79" y="438" textLength="37.8" lengthAdjust="spacingAndGlyphs">MACD</text>
<text filter="url(#tb)" x="44.29" y="438" textLength="21.68" lengthAdjust="spacingAndGlyphs">(12,</text>
<text filter="url(#tb)" x="75.19" y="438" textLength="20.06" lengthAdjust="spacingAndGlyphs">26,</text>
<text filter="url(#tb)" x="100.5" y="438" textLength="35.73" lengthAdjust="spacingAndGlyphs">close,</text>
<text filter="url(#tb)" x="144.15" y="438" textLength="14.19" lengthAdjust="spacingAndGlyphs">9)</text>
<text filter="url(#tb)" x="167.6" y="438" fill="#ACE5DC" textLength="50.7" lengthAdjust="spacingAndGlyphs">0.00091</text>
<text filter="url(#tb)" x="229.3" y="438" fill="#2196F3" textLength="51.5" lengthAdjust="spacingAndGlyphs">0.00263</text>
<text filter="url(#tb)" x="291" y="438" fill="#FF6D00" textLength="51.7" lengthAdjust="spacingAndGlyphs">0.00173</text>
<text filter="url(#tb)" x="998.4" y="24.7" textLength="52.1" lengthAdjust="spacingAndGlyphs">1.35500</text>
<text filter="url(#tb)" x="998.4" y="73.5" textLength="52.1" lengthAdjust="spacingAndGlyphs">1.35000</text>
<text filter="url(#tb)" x="998.4" y="220" textLength="52.1" lengthAdjust="spacingAndGlyphs">1.33500</text>
<text filter="url(#tb)" x="998.4" y="268.8" textLength="52.1" lengthAdjust="spacingAndGlyphs">1.33000</text>
<text filter="url(#tb)" x="998.4" y="318" textLength="52.1" lengthAdjust="spacingAndGlyphs">1.32500</text>
<path d="M988 107.4 h67.5 a2.5 2.5 0 0 1 2.5 2.5 v17.2 a2.5 2.5 0 0 1 -2.5 2.5 h-67.5 z" fill="#F23645"/>
<text filter="url(#tb)" x="998.8" y="123.8" fill="#fff" stroke="#fff" stroke-width="0.4" textLength="50.6" lengthAdjust="spacingAndGlyphs">1.34481</text>
<path d="M988 151.3 h67.5 a2.5 2.5 0 0 1 2.5 2.5 v16.9 a2.5 2.5 0 0 1 -2.5 2.5 h-67.5 z" fill="#2196F3"/>
<text filter="url(#tb)" x="998.8" y="167.5" fill="#fff" stroke="#fff" stroke-width="0.4" textLength="50.6" lengthAdjust="spacingAndGlyphs">1.34033</text>
<path d="M988 344.1 h51.2 a2.5 2.5 0 0 1 2.5 2.5 v16.8 a2.5 2.5 0 0 1 -2.5 2.5 h-51.2 z" fill="#9E56C2"/>
<text filter="url(#tb)" x="998" y="360.1" fill="#fff" stroke="#fff" stroke-width="0.4" textLength="37" lengthAdjust="spacingAndGlyphs">65.66</text>
<text filter="url(#tb)" x="998" y="387.6" textLength="37" lengthAdjust="spacingAndGlyphs">40.00</text>
<path d="M988 414.2 h67.5 a2.5 2.5 0 0 1 2.5 2.5 v5 a2.5 2.5 0 0 1 -2.5 2.5 h-67.5 z" fill="#F2995C"/>
<path d="M988 415.7 h70 v18.4 a2.5 2.5 0 0 1 -2.5 2.5 h-67.5 z" fill="#ACE5DC"/>
<text filter="url(#tb)" x="998" y="431" textLength="51.6" lengthAdjust="spacingAndGlyphs">0.00091</text>
<text filter="url(#tb)" x="59.6" y="476.9" text-anchor="middle">23</text>
<text filter="url(#tb)" x="199.7" y="476.9" text-anchor="middle">26</text>
<text filter="url(#tb)" x="486.9" y="476.9" text-anchor="middle">5</text>
<text filter="url(#tb)" x="587.6" y="476.9" text-anchor="middle">8</text>
<text filter="url(#tb)" x="727.5" y="476.9" text-anchor="middle">12</text>
<text filter="url(#tb)" x="828.2" y="476.9" text-anchor="middle">15</text>
<text filter="url(#tb)" x="968.7" y="476.9" text-anchor="middle">18</text>
<text filter="url(#tb)" x="347" y="476.9" text-anchor="middle" font-weight="bold">Oct</text>
</g></svg></body></html>
